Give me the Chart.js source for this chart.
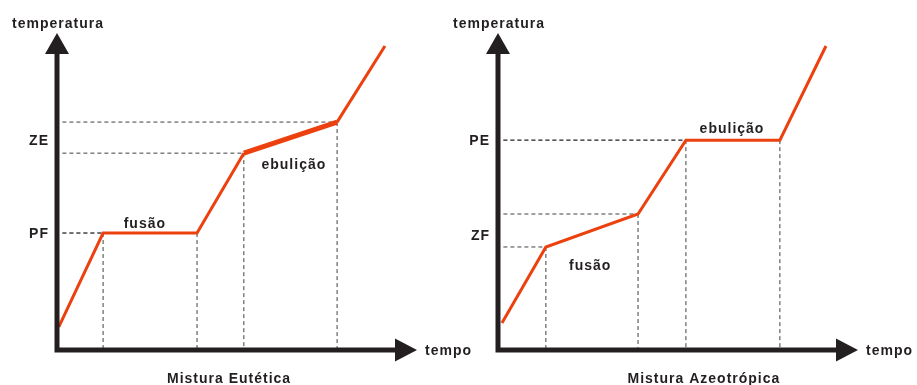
<!DOCTYPE html>
<html>
<head>
<meta charset="utf-8">
<script src="https://cdn.jsdelivr.net/npm/chart.js@4.4.1/dist/chart.umd.min.js"></script>
<style>
  html, body { margin: 0; padding: 0; background: #fff; }
  #wrap { position: relative; width: 917px; height: 385px; overflow: hidden; }
  canvas { position: absolute; top: 0; left: 0; }
</style>
</head>
<body>
<div id="wrap">
  <canvas id="euteticaChart" width="917" height="385"></canvas>
  <canvas id="azeotropicaChart" width="917" height="385"></canvas>
</div>
<script>
// tempo e temperatura em unidades arbitrarias (0-100)
const euteticaTempo = [0.5, 12.8, 38.9, 51.9, 77.8, 91.1];
const euteticaTemp = [7.3, 36.9, 36.9, 62.1, 71.9, 95.9];
const euteticaTicks = [36.9, 66.2];
const euteticaTickLabels = ['PF', 'ZE'];

const azeotropicaTempo = [1.1, 13.3, 38.9, 52.2, 78.3, 91.1];
const azeotropicaTemp = [8.5, 32.5, 42.9, 66.2, 66.2, 95.9];
const azeotropicaTicks = [36.3, 66.2];
const azeotropicaTickLabels = ['ZF', 'PE'];

const COR_LINHA = '#ec410f';
const COR_EIXO = '#231f20';
const COR_GUIA = '#404040';
const FONTE = 'bold 14px "Liberation Sans", Arial, sans-serif';

// linhas tracejadas: horizontal ate o eixo y e vertical ate o eixo x
function guias(tempo, temp) {
  const pts = [];
  for (let i = 1; i < tempo.length - 1; i++) {
    pts.push({ x: 1.5, y: temp[i] }, { x: tempo[i], y: temp[i] }, { x: tempo[i], y: null });
    pts.push({ x: tempo[i], y: temp[i] }, { x: tempo[i], y: 0 }, { x: tempo[i], y: null });
  }
  return pts;
}

const eixosPlugin = {
  id: 'eixos',
  afterDatasetsDraw(chart, args, opts) {
    const { ctx, chartArea: a, scales } = chart;
    ctx.save();
    ctx.strokeStyle = COR_EIXO;
    ctx.fillStyle = COR_EIXO;
    ctx.lineWidth = 5;
    ctx.beginPath();
    ctx.moveTo(a.left, a.bottom + 2.5);
    ctx.lineTo(a.left, a.top + 18);
    ctx.moveTo(a.left - 2.5, a.bottom);
    ctx.lineTo(a.right - 18, a.bottom);
    ctx.stroke();

    ctx.beginPath();
    ctx.moveTo(a.left, a.top);
    ctx.lineTo(a.left - 12, a.top + 21);
    ctx.lineTo(a.left + 12, a.top + 21);
    ctx.closePath();
    ctx.fill();
    ctx.beginPath();
    ctx.moveTo(a.right, a.bottom);
    ctx.lineTo(a.right - 22, a.bottom - 11.5);
    ctx.lineTo(a.right - 22, a.bottom + 11.5);
    ctx.closePath();
    ctx.fill();

    ctx.font = FONTE;
    ctx.letterSpacing = '1px';
    ctx.textBaseline = 'alphabetic';
    ctx.textAlign = 'center';
    ctx.fillText('temperatura', a.left + 1, 28);
    ctx.textAlign = 'left';
    ctx.fillText('tempo', a.right + 8, a.bottom + 5);

    ctx.textAlign = 'right';
    opts.ticks.forEach((v, i) => {
      ctx.fillText(opts.tickLabels[i], a.left - 8, scales.y.getPixelForValue(v) + 5);
    });

    ctx.textAlign = 'center';
    opts.rotulos.forEach(r => {
      ctx.fillText(r.texto, scales.x.getPixelForValue(r.x), scales.y.getPixelForValue(r.y));
    });
    ctx.fillText(opts.titulo, a.left + a.width * opts.tituloPos, 383);
    ctx.restore();
  }
};

function criarGrafico(id, tempo, temp, cfg) {
  const data = tempo.map((t, i) => ({ x: t, y: temp[i] }));
  return new Chart(document.getElementById(id), {
    type: 'line',
    data: {
      datasets: [
        {
          data: data,
          borderColor: COR_LINHA,
          borderWidth: 3,
          pointRadius: 0,
          tension: 0,
          clip: false,
          order: 1,
          segment: {
            borderWidth: ctx => (ctx.p0DataIndex === cfg.segmentoGrosso ? 5 : 3)
          }
        },
        {
          data: guias(tempo, temp),
          borderColor: COR_GUIA,
          borderWidth: 1,
          borderDash: [4, 3],
          pointRadius: 0,
          spanGaps: false,
          order: 2
        }
      ]
    },
    options: {
      responsive: false,
      animation: false,
      devicePixelRatio: 1,
      layout: { padding: cfg.padding },
      scales: {
        x: { type: 'linear', min: 0, max: 100, display: false },
        y: { type: 'linear', min: 0, max: 100, display: false }
      },
      plugins: {
        legend: { display: false },
        tooltip: { enabled: false },
        eixos: {
          ticks: cfg.ticks,
          tickLabels: cfg.tickLabels,
          rotulos: cfg.rotulos,
          titulo: cfg.titulo,
          tituloPos: cfg.tituloPos
        }
      }
    },
    plugins: [eixosPlugin]
  });
}

criarGrafico('euteticaChart', euteticaTempo, euteticaTemp, {
  padding: { left: 57, right: 500, top: 33, bottom: 35 },
  segmentoGrosso: 3,
  ticks: euteticaTicks,
  tickLabels: euteticaTickLabels,
  rotulos: [
    { texto: 'fusão', x: 24.4, y: 38.5 },
    { texto: 'ebulição', x: 65.8, y: 57.1 }
  ],
  titulo: 'Mistura Eutética',
  tituloPos: 0.478
});

criarGrafico('azeotropicaChart', azeotropicaTempo, azeotropicaTemp, {
  padding: { left: 498, right: 59, top: 33, bottom: 35 },
  segmentoGrosso: -1,
  ticks: azeotropicaTicks,
  tickLabels: azeotropicaTickLabels,
  rotulos: [
    { texto: 'fusão', x: 25.6, y: 25.2 },
    { texto: 'ebulição', x: 65, y: 68.5 }
  ],
  titulo: 'Mistura Azeotrópica',
  tituloPos: 0.572
});
</script>
</body>
</html>
